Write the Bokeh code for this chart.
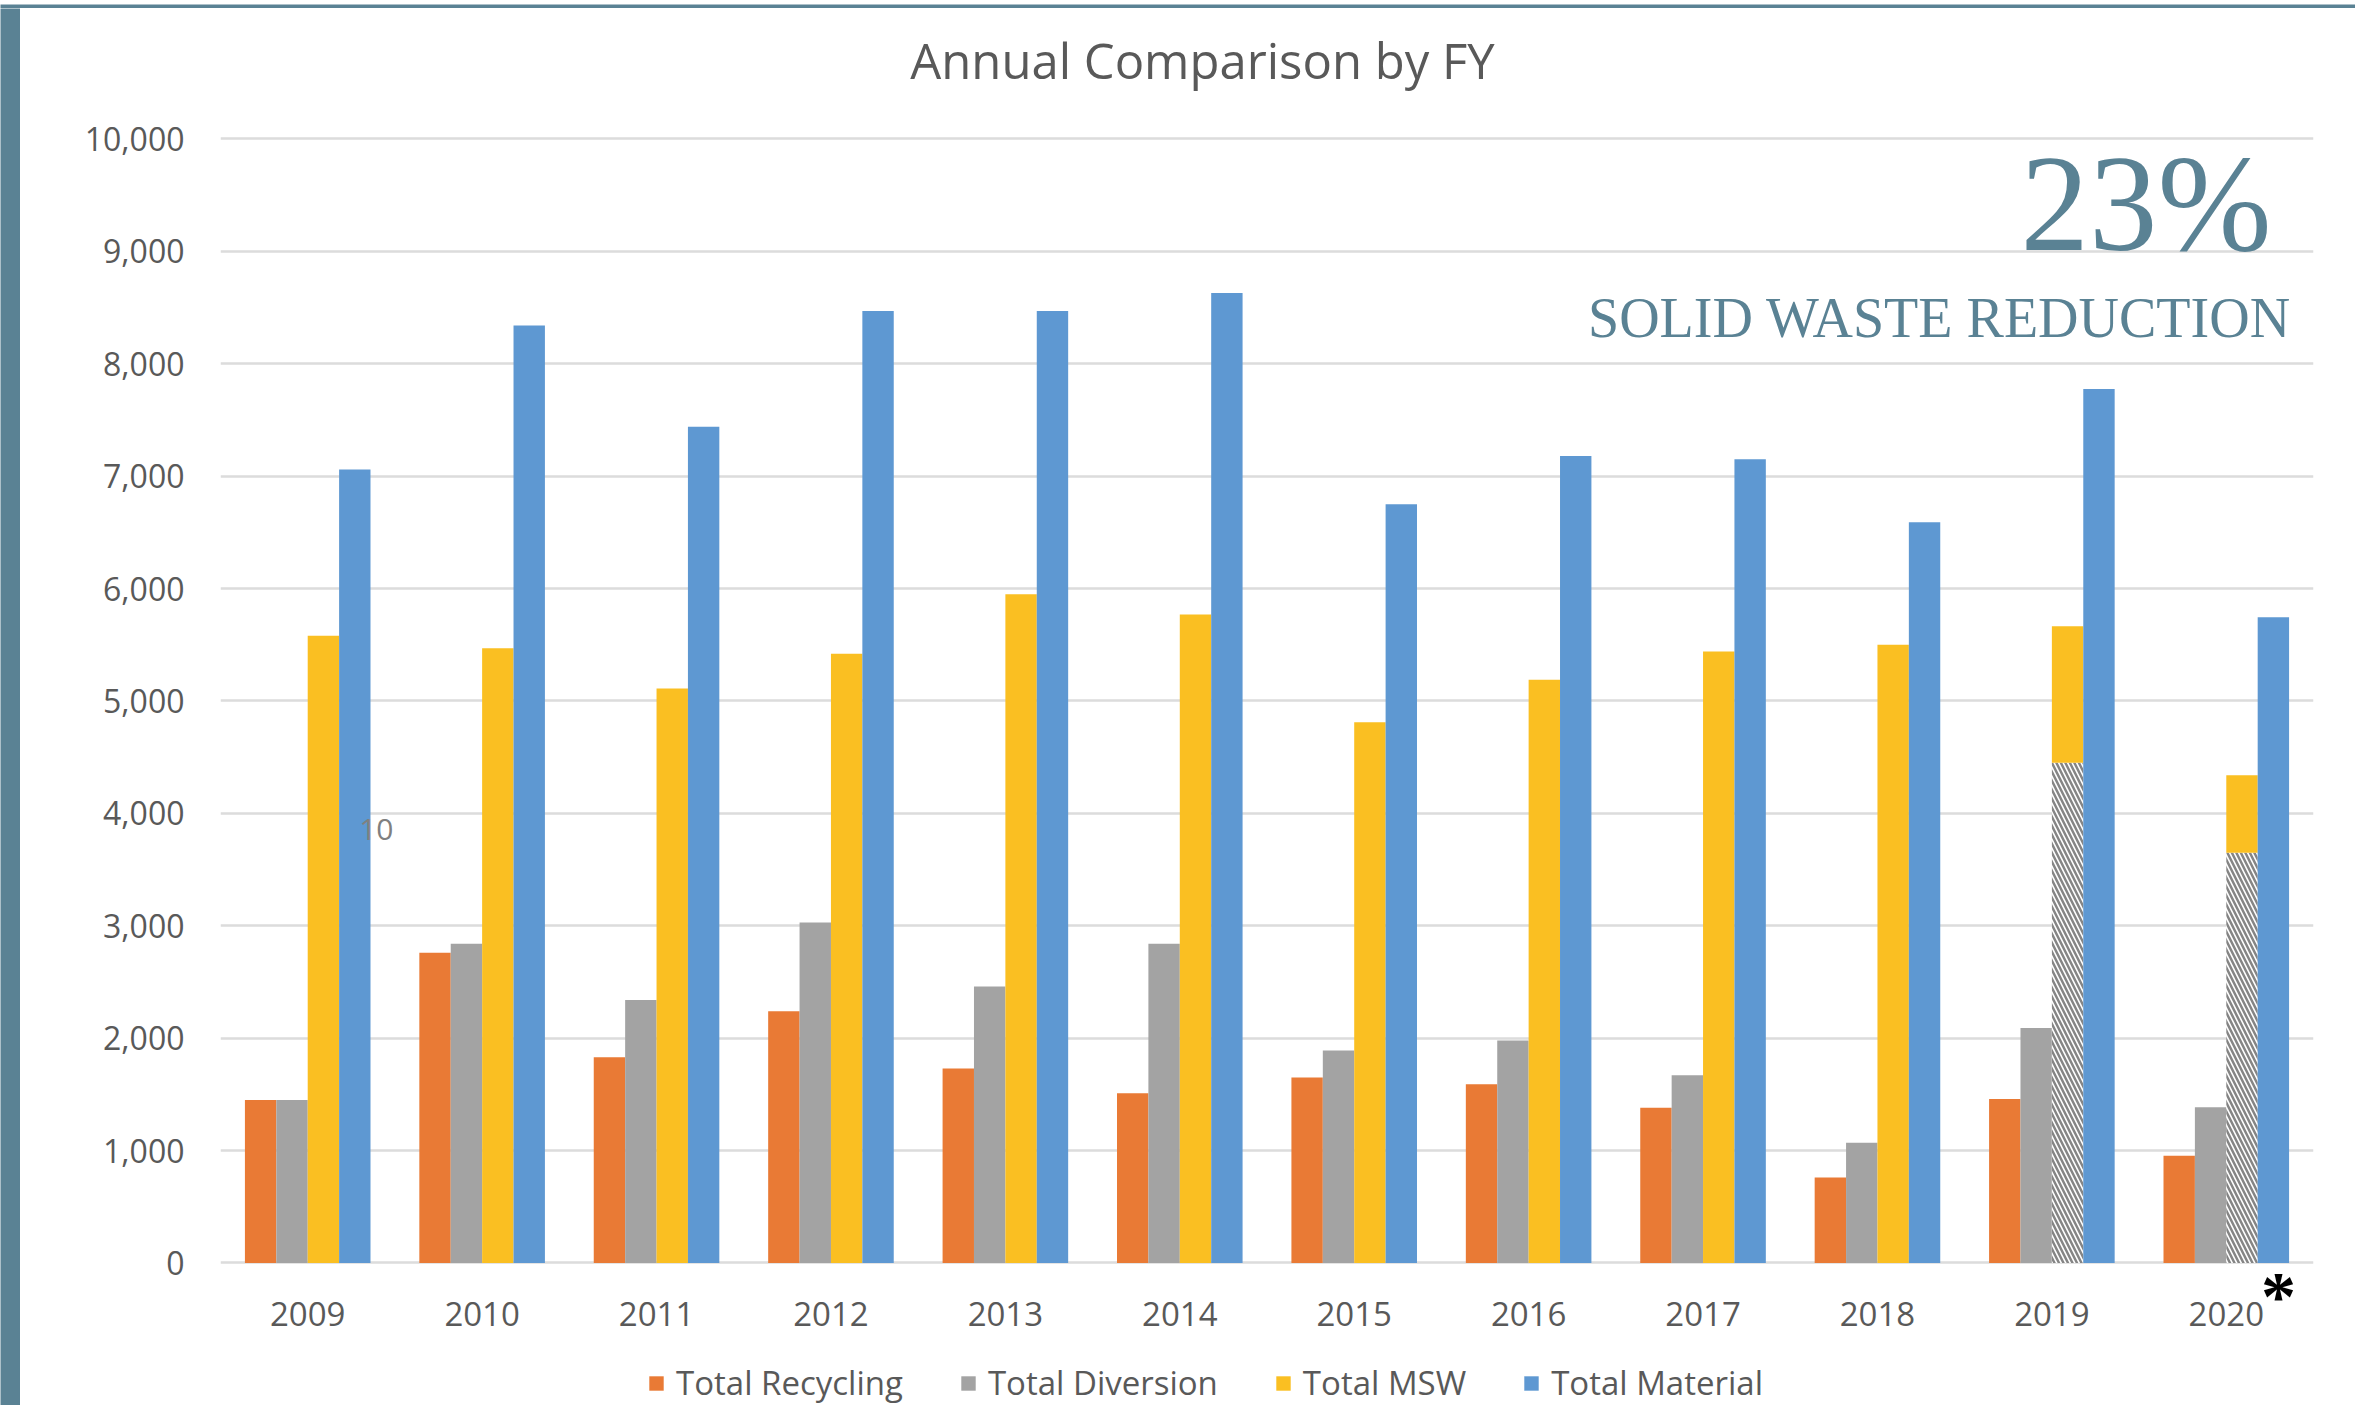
from bokeh.plotting import figure
from bokeh.layouts import row, column
from bokeh.models import (FactorRange, Range1d, ColumnDataSource, Legend, LegendItem,
                          Label, FixedTicker, NumeralTickFormatter)
from bokeh.transform import dodge
from bokeh.embed import file_html
from bokeh.resources import INLINE

# ---------------- data ----------------
years = ["2009", "2010", "2011", "2012", "2013", "2014",
         "2015", "2016", "2017", "2018", "2019", "2020"]
recycling = [1450, 2760, 1830, 2240, 1730, 1510, 1650, 1590, 1380, 760, 1460, 955]
diversion = [1450, 2840, 2340, 3030, 2460, 2840, 1890, 1980, 1670, 1070, 2090, 1386]
msw = [5580, 5470, 5110, 5420, 5950, 5770, 4810, 5190, 5440, 5500, 5665, 4340]
msw_hatched = [0, 0, 0, 0, 0, 0, 0, 0, 0, 0, 4450, 3650]
material = [7060, 8340, 7440, 8470, 8470, 8630, 6750, 7180, 7150, 6590, 7775, 5745]
y_ticks = [0, 1000, 2000, 3000, 4000, 5000, 6000, 7000, 8000, 9000, 10000]
series_labels = ["Total Recycling", "Total Diversion", "Total MSW", "Total Material"]

# ---------------- style ----------------
ORANGE = "#e97a35"
GRAY = "#a3a3a3"
YELLOW = "#fabf22"
BLUE = "#5e98d2"
TEAL = "#5a8294"
TXT = "#595959"
FONT = "Open Sans"

TOTAL_W, TOTAL_H = 2355, 1405
BAND_L, BAND_T = 20, 8
W = TOTAL_W - BAND_L
H = TOTAL_H - BAND_T


def band_fig(w, h):
    b = figure(width=w, height=h, output_backend="svg", toolbar_location=None,
               x_axis_location=None, y_axis_location=None, min_border=0,
               background_fill_color=TEAL, border_fill_color=TEAL, outline_line_color=None)
    b.grid.visible = False
    b.title.visible = False
    return b


top_band = band_fig(TOTAL_W, BAND_T)
left_band = band_fig(BAND_L, H)

src = ColumnDataSource(dict(years=years, recycling=recycling, diversion=diversion,
                            msw=msw, msw_hatched=msw_hatched, material=material))

p = figure(width=W, height=H, x_range=FactorRange(*years), y_range=Range1d(-1268, 11161),
           output_backend="svg", toolbar_location=None, min_border=0,
           min_border_left=200, min_border_right=42, min_border_top=0, min_border_bottom=0)
p.title.visible = False
p.outline_line_color = None
p.background_fill_color = "white"
p.border_fill_color = "white"
p.xgrid.grid_line_color = None
p.ygrid.grid_line_color = "#dcdcdc"
p.ygrid.grid_line_width = 2.5

for ax in (p.xaxis, p.yaxis):
    ax.axis_line_color = None
    ax.major_tick_line_color = None
    ax.minor_tick_line_color = None
    ax.major_label_text_font = FONT
    ax.major_label_text_color = TXT

p.yaxis.ticker = FixedTicker(ticks=y_ticks)
p.yaxis.formatter = NumeralTickFormatter(format="0,0")
p.yaxis.major_label_text_font_size = "32px"
p.yaxis.major_label_standoff = 30
p.xaxis.fixed_location = 0
p.xaxis.major_label_text_font_size = "33px"
p.xaxis.major_label_standoff = 33

bw = 0.18
r1 = p.vbar(x=dodge("years", -0.27, range=p.x_range), top="recycling", width=bw,
            source=src, fill_color=ORANGE, line_color=None)
r2 = p.vbar(x=dodge("years", -0.09, range=p.x_range), top="diversion", width=bw,
            source=src, fill_color=GRAY, line_color=None)
p.vbar(x=dodge("years", 0.09, range=p.x_range), bottom=0, top="msw_hatched", width=bw,
       source=src, fill_color="white", line_color=None,
       hatch_pattern="\\", hatch_color="#858585", hatch_scale=9, hatch_weight=2.5)
r3 = p.vbar(x=dodge("years", 0.09, range=p.x_range), bottom="msw_hatched", top="msw", width=bw,
            source=src, fill_color=YELLOW, line_color=None)
r4 = p.vbar(x=dodge("years", 0.27, range=p.x_range), top="material", width=bw,
            source=src, fill_color=BLUE, line_color=None)

legend = Legend(items=[LegendItem(label=series_labels[0], renderers=[r1]),
                       LegendItem(label=series_labels[1], renderers=[r2]),
                       LegendItem(label=series_labels[2], renderers=[r3]),
                       LegendItem(label=series_labels[3], renderers=[r4])],
                orientation="horizontal", location=(427, 0),
                border_line_color=None, background_fill_alpha=0,
                padding=0, margin=0, glyph_width=18, glyph_height=18,
                label_standoff=11, spacing=56,
                label_text_font=FONT, label_text_font_size="33px", label_text_color=TXT)
p.add_layout(legend)

# title
p.add_layout(Label(x=5.63, y=10707, text="Annual Comparison by FY", text_font=FONT,
                   text_font_size="49px", text_color=TXT, text_align="center",
                   text_baseline="middle"))
# stray label
p.add_layout(Label(x=0.795, y=3860, text="10", text_font=FONT, text_font_size="30px",
                   text_color="#808080", text_align="left", text_baseline="middle"))
# annotation
p.add_layout(Label(x=11.04, y=9422, text="23%", text_font="Liberation Serif",
                   text_font_size="137px", text_color=TEAL, text_align="center",
                   text_baseline="middle"))
p.add_layout(Label(x=9.856, y=8403, text="SOLID WASTE REDUCTION", text_font="Liberation Serif",
                   text_font_size="56px", text_color=TEAL, text_align="center",
                   text_baseline="middle"))
p.add_layout(Label(x=11.80, y=-302, text="*", text_font="Liberation Serif",
                   text_font_size="70px", text_font_style="bold", text_color="black",
                   text_align="center", text_baseline="middle"))

layout = column(top_band, row(left_band, p))
open("out.html", "w").write(file_html(layout, INLINE))
